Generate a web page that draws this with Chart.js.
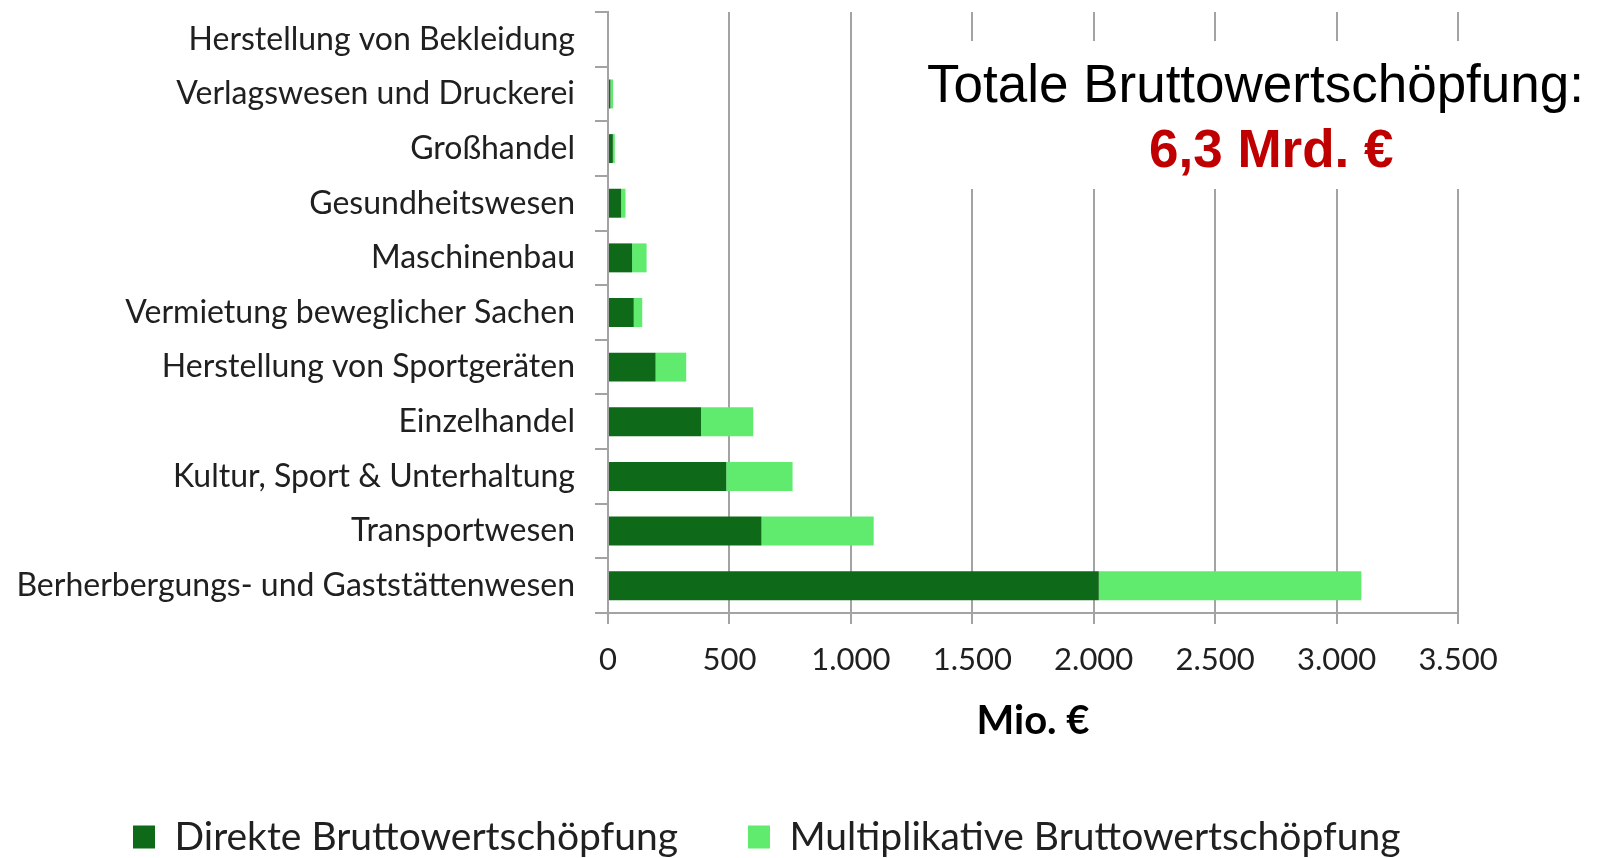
<!DOCTYPE html>
<html lang="de">
<head>
  <meta charset="UTF-8" />
  <title>Bruttowertschöpfung nach Branchen</title>
  <script src="https://cdn.jsdelivr.net/npm/chart.js"></script>
  <style>
    html, body { margin: 0; padding: 0; background: #fff; }
    #chart { display: block; }
  </style>
</head>
<body>
  <canvas id="chart" width="1600" height="858"></canvas>

  <script>
    // Branchen, von oben nach unten
    const categories = [
      "Herstellung von Bekleidung",
      "Verlagswesen und Druckerei",
      "Großhandel",
      "Gesundheitswesen",
      "Maschinenbau",
      "Vermietung beweglicher Sachen",
      "Herstellung von Sportgeräten",
      "Einzelhandel",
      "Kultur, Sport & Unterhaltung",
      "Transportwesen",
      "Berherbergungs- und Gaststättenwesen"
    ];

    // Mio. €
    const direkt = [0, 10, 20, 54, 99, 106, 196, 383, 487, 632, 2021];
    const multiplikativ = [0, 11, 8, 18, 60, 35, 126, 215, 273, 462, 1081];

    const xTicks = [0, 500, 1000, 1500, 2000, 2500, 3000, 3500];

    const seriesNames = ["Direkte Bruttowertschöpfung", "Multiplikative Bruttowertschöpfung"];
    const totalLabel = "Totale Bruttowertschöpfung:";
    const totalValue = "6,3 Mrd. €";

    const gridGray = "#a3a3a3";
    const labelFont = "Lato";
    const textColor = "#202020";

    function formatDe(v) {
      return String(v).replace(/\B(?=(\d{3})+(?!\d))/g, ".");
    }

    // weißer Kasten mit der Gesamtsumme oben rechts
    const totalBox = {
      id: "totalBox",
      afterDraw(chart) {
        const ctx = chart.ctx;
        ctx.save();
        ctx.fillStyle = "#fff";
        ctx.fillRect(915, 41, 685, 148);
        ctx.textAlign = "left";
        ctx.textBaseline = "alphabetic";
        ctx.fillStyle = "#000";
        ctx.font = "53px 'Liberation Sans', Arial, sans-serif";
        ctx.fillText(totalLabel, 927, 102);
        ctx.fillStyle = "#c00000";
        ctx.font = "bold 53px 'Liberation Sans', Arial, sans-serif";
        ctx.fillText(totalValue, 1149, 167);
        ctx.restore();
      }
    };

    // Legende links beginnen lassen (wie im Original)
    const legendPad = 70;
    const legendLeft = {
      id: "legendLeft",
      afterLayout(chart) {
        chart.legend.left = 133 - legendPad;
      }
    };

    new Chart(document.getElementById("chart"), {
      type: "bar",
      data: {
        labels: categories,
        datasets: [
          {
            label: seriesNames[0],
            data: direkt,
            backgroundColor: "#0e6a19",
            barPercentage: 0.53,
            categoryPercentage: 1
          },
          {
            label: seriesNames[1],
            data: multiplikativ,
            backgroundColor: "#60eb6f",
            barPercentage: 0.53,
            categoryPercentage: 1
          }
        ]
      },
      options: {
        indexAxis: "y",
        responsive: false,
        animation: false,
        layout: {
          padding: { left: 0, right: 0, top: 12, bottom: -8.5 }
        },
        scales: {
          x: {
            stacked: true,
            min: 0,
            max: 3500,
            afterBuildTicks(scale) {
              scale.ticks = xTicks.map(v => ({ value: v }));
            },
            afterFit(scale) {
              scale.height = 134.5;
              scale.paddingLeft = 0;
              scale.paddingRight = 142;
            },
            grid: { color: gridGray, lineWidth: 2, tickLength: 11 },
            border: { color: gridGray, width: 2 },
            ticks: {
              color: textColor,
              padding: 17,
              font: { family: labelFont, size: 31 },
              callback: v => formatDe(v)
            },
            title: {
              display: true,
              text: "Mio. €",
              color: "#000",
              padding: { top: 0, bottom: 2.5 },
              font: { family: labelFont, size: 40, weight: "bold" }
            }
          },
          y: {
            stacked: true,
            afterFit(scale) {
              scale.width = 608;
              scale.paddingTop = 0;
              scale.paddingBottom = 0;
            },
            grid: { offset: true, drawOnChartArea: false, color: gridGray, lineWidth: 2, tickLength: 13 },
            border: { color: gridGray, width: 2 },
            ticks: {
              color: textColor,
              padding: 20,
              font: { family: labelFont, size: 32 }
            }
          }
        },
        plugins: {
          legend: {
            position: "bottom",
            align: "start",
            labels: {
              color: textColor,
              boxWidth: 22,
              boxHeight: 23,
              padding: legendPad,
              font: { family: labelFont, size: 39 }
            }
          },
          tooltip: { enabled: false }
        }
      },
      plugins: [totalBox, legendLeft]
    });
  </script>
</body>
</html>
